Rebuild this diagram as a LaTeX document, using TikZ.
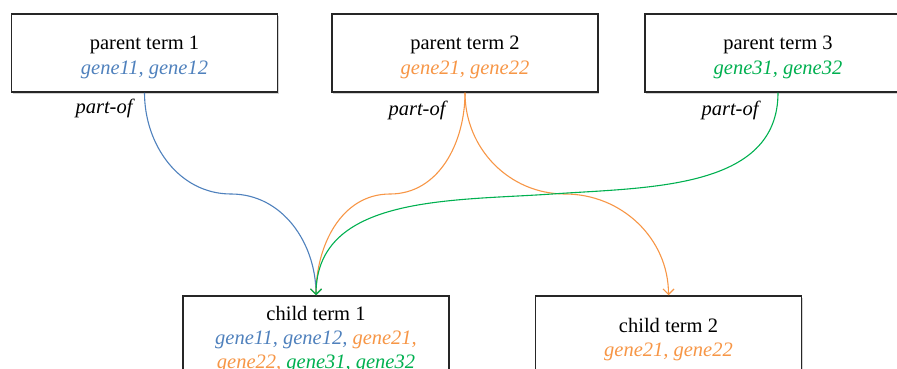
\documentclass[tikz,border=0pt]{standalone}
\usepackage{fontspec}
\setmainfont{Liberation Serif}
\usetikzlibrary{arrows.meta,shadows}
\definecolor{gblue}{RGB}{79,129,189}
\definecolor{gorange}{RGB}{247,150,70}
\definecolor{ggreen}{RGB}{0,176,80}
\newcommand{\geneB}[1]{\textcolor{gblue}{\itshape #1}}
\newcommand{\geneO}[1]{\textcolor{gorange}{\itshape #1}}
\newcommand{\geneG}[1]{\textcolor{ggreen}{\itshape #1}}
% extra room above the first line moves the text block a little lower
\newcommand{\topgap}{\rule{0pt}{22pt}}

\begin{document}
\begin{tikzpicture}[x=1pt,y=-1pt,
  term/.style={draw=black!85, line width=1.5pt, fill=white,
    minimum width=266pt, inner sep=0pt, align=center,
    font=\fontsize{20.5}{25}\selectfont,
    drop shadow={shadow xshift=1.3pt, shadow yshift=-1.8pt, opacity=0.35}},
  parentbox/.style={term, minimum height=78pt},
  childbox/.style={term, minimum height=80pt, font=\fontsize{20.5}{24}\selectfont},
  rel/.style={font=\fontsize{20.5}{25}\selectfont\itshape},
  link/.style={line width=1.1pt},
  arr/.style={link, -{Straight Barb[length=5.5pt,width=11pt,line width=1.1pt]}}
]
\useasboundingbox (0,0) rectangle (897,369);

% parent terms
\node[parentbox] (p1) at (144.5,53) {\topgap parent term 1\\\geneB{gene11, gene12}};
\node[parentbox] (p2) at (465,53) {\topgap parent term 2\\\geneO{gene21, gene22}};
\node[parentbox] (p3) at (778,53) {\topgap parent term 3\\\geneG{gene31, gene32}};

% child terms
\node[childbox] (c1) at (316,336) {\topgap child term 1\\\geneB{gene11, gene12,} \geneO{gene21,}\\\geneO{gene22,} \geneG{gene31, gene32}};
\node[childbox] (c2) at (668.5,336) {\topgap child term 2\\\geneO{gene21, gene22}};

% relation labels
\node[rel] (r1) at (104,108) {part-of};
\node[rel] (r2) at (417,110) {part-of};
\node[rel] (r3) at (730,110) {part-of};

% turning points of the connectors
\coordinate (mb) at (231,194);
\coordinate (mo1) at (390,194);
\coordinate (mo2) at (565,194);
\coordinate (mg) at (552,194);

% connectors
\draw[link, gblue] (p1.south) to[out=-90,in=180] (mb);
\draw[arr, gblue] (mb) to[out=0,in=90] (c1.north);
\draw[link, gorange] (p2.south) to[out=-90,in=0] (mo1);
\draw[arr, gorange] (mo1) to[out=180,in=90] (c1.north);
\draw[link, gorange] (p2.south) to[out=-90,in=180] (mo2);
\draw[arr, gorange] (mo2) to[out=0,in=90] (c2.north);
\draw[link, ggreen] (p3.south) to[out=-90,in=4] (mg);
\draw[arr, ggreen] (mg) to[out=184,in=90] (c1.north);
\end{tikzpicture}
\end{document}
